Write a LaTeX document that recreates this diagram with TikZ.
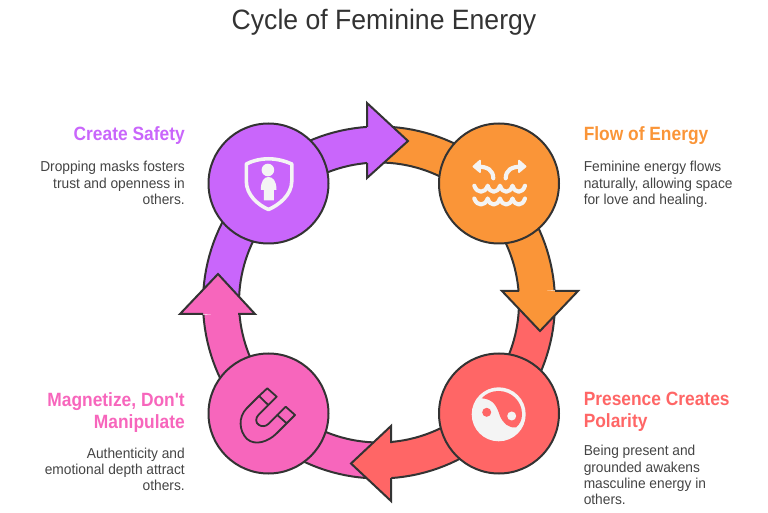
\documentclass[tikz,border=0pt]{standalone}
\usepackage{fontspec}
\setmainfont{Liberation Sans}
\newfontfamily\headfont[FakeStretch=0.905]{Liberation Sans}
\newfontfamily\bodyfont[FakeStretch=0.955]{Liberation Sans}
\newfontfamily\titlefont[FakeStretch=0.95]{Liberation Sans}
\definecolor{cpurple}{HTML}{C966FB}
\definecolor{corange}{HTML}{FA9538}
\definecolor{cred}{HTML}{FF6666}
\definecolor{cpink}{HTML}{F766BC}
\definecolor{cline}{HTML}{333333}
\definecolor{cicon}{HTML}{F4F4F4}
\definecolor{ctext}{HTML}{444444}
\newcommand{\ringbody}[3]{%
  \fill[#1] plot[domain=#2:#3,samples=40,variable=\t] ({379+176*cos(\t)},{302.5+176*sin(\t)})
    -- plot[domain=#3:#2,samples=40,variable=\t] ({379+140*cos(\t)},{302.5+140*sin(\t)}) -- cycle;
  \draw[edge] plot[domain=#2:#3,samples=40,variable=\t] ({379+176*cos(\t)},{302.5+176*sin(\t)});
  \draw[edge] plot[domain=#2:#3,samples=40,variable=\t] ({379+140*cos(\t)},{302.5+140*sin(\t)});
}
\newcommand{\ringhead}[6]{%
  \fill[#1] #2 -- #3 -- #4 -- #5 -- #6 -- cycle;
  \draw[edge] #2 -- #3 -- #4 -- #5 -- #6;
}
\newcommand{\wavy}[2]{%
  \draw[iconthick] (474.3+#1,#2) .. controls (477+#1,#2+8) and (485+#1,#2+8) .. (487.7+#1,#2)
    .. controls (490+#1,#2+8) and (497.5+#1,#2+8) .. (500+#1,#2)
    .. controls (502.5+#1,#2+8) and (510+#1,#2+8) .. (512.5+#1,#2)
    .. controls (515+#1,#2+8) and (522.5+#1,#2+8) .. (525+#1,#2);
}
\tikzset{
  x=0.75pt,y=-0.75pt,
  edge/.style={draw=cline,line width=1.5pt,line join=miter},
  hub/.style={circle,draw=cline,line width=1.5pt,minimum size=90pt,inner sep=0pt},
  iconline/.style={draw=cicon,line width=2.7pt,line cap=round,line join=round},
  iconthick/.style={iconline,line width=3.1pt},
  magline/.style={draw=cline,line width=1.35pt,line join=round},
  heading/.style={font=\headfont\fontsize{14.4}{16.5}\selectfont\bfseries,inner sep=0pt},
  body/.style={font=\bodyfont\fontsize{10.8}{12.25}\selectfont,text=ctext,inner sep=0pt},
}
\begin{document}
\begin{tikzpicture}
\useasboundingbox (0,0) rectangle (768,513);
\coordinate (ring) at (379,302.5);
% arrow bodies
\ringbody{cpurple}{180}{266}
\ringbody{corange}{270}{356}
\ringbody{cred}{0}{86}
\ringbody{cpink}{90}{176}
% arrow heads
\ringhead{cpurple}{(367,127)}{(367,103)}{(408,141)}{(367,178)}{(367,163)}
\ringhead{corange}{(555,291)}{(578,291)}{(540,331)}{(502,291)}{(519,291)}
\ringhead{cred}{(391,478)}{(391,501)}{(351,463.5)}{(391,426)}{(391,443)}
\ringhead{cpink}{(203,314)}{(180,314)}{(218,274)}{(255,314)}{(238,314)}
% hubs
\node[hub,fill=cpurple] (safety) at (268.5,183.5) {};
\node[hub,fill=corange] (flow) at (499,183.5) {};
\node[hub,fill=cred] (presence) at (499,413.5) {};
\node[hub,fill=cpink] (magnet) at (268.5,413.5) {};
% shield icon
\draw[iconline] (268.5,158.8) .. controls (260,158.8) and (252,161) .. (246.3,164)
  -- (246.3,181) .. controls (246.3,195) and (258,205) .. (268.5,209.5)
  .. controls (279,205) and (291.8,195) .. (291.8,181) -- (291.8,164)
  .. controls (285,161) and (277,158.8) .. (268.5,158.8) -- cycle;
\fill[cicon] (267.9,170) circle[radius=6.3];
\fill[cicon] (260.8,190) .. controls (260.8,181) and (264,177) .. (268.5,177)
  .. controls (273,177) and (276.5,181) .. (276.5,190) -- (273.8,190) -- (273.8,200.5)
  -- (263.8,200.5) -- (263.8,190) -- cycle;
% flow icon
\draw[iconthick] (493.3,178.3) .. controls (493,170) and (488,166.5) .. (476,166.5);
\draw[iconthick] (505.7,178.3) .. controls (506,170) and (511,166.5) .. (523,166.5);
\fill[cicon,draw=cicon,line width=1.4pt,line join=round] (473.5,166.5) -- (480,160.7) -- (480,172) -- cycle;
\fill[cicon,draw=cicon,line width=1.4pt,line join=round] (525.5,166.5) -- (519,160.7) -- (519,172) -- cycle;
\wavy{0}{185.7}
\wavy{0}{198.5}
% yin-yang icon
\fill[cicon] (498.7,414.3) circle[radius=27];
\fill[cred] (481.7,398.3) .. controls (486,393.5) and (492,391) .. (498.5,391)
  .. controls (511,391) and (522,401) .. (522,414) .. controls (522,420) and (520,424) .. (516,427.5)
  .. controls (508,428) and (503,423) .. (500,416) .. controls (497,407) and (494,399) .. (481.7,398.3) -- cycle;
\fill[cred] (486.7,412.3) circle[radius=4.5];
\fill[cicon] (511.7,416) circle[radius=4.5];
% magnet icon
\draw[magline] (259,396) -- (267.3,388.3) -- (276.7,396.7) -- (268.3,405) -- cycle;
\draw[magline] (277.3,415) -- (285.7,406.7) -- (295,415) -- (286.7,423.3) -- cycle;
\draw[magline] (259,396) -- (246.7,408.3) .. controls (238,417) and (239,431) .. (247,439)
  .. controls (255,446) and (268,442) .. (276.7,433.3) -- (286.7,423.3);
\draw[magline] (268.3,405) -- (259,414.3) .. controls (255,418) and (255.5,423) .. (259,425)
  .. controls (262,427) and (266,426.3) .. (268.3,424) -- (277.3,415);
% texts
\node[anchor=base,font=\titlefont\fontsize{21}{24}\selectfont,text=cline,inner sep=0pt] (title) at (384,30) {Cycle of Feminine Energy};
\node[heading,text=cpurple,anchor=base east] (h1) at (185,140.5) {Create Safety};
\node[body,align=right,anchor=north east] (b1) at (185,161) {Dropping masks fosters\\trust and openness in\\others.};
\node[heading,text=corange,anchor=base west] (h2) at (583.5,140.5) {Flow of Energy};
\node[body,align=left,anchor=north west] (b2) at (583.5,161) {Feminine energy flows\\naturally, allowing space\\for love and healing.};
\node[heading,text=cred,align=left,anchor=north west] (h3) at (583.5,392) {Presence Creates\\Polarity};
\node[body,align=left,anchor=north west] (b3) at (583.5,445) {Being present and\\grounded awakens\\masculine energy in\\others.};
\node[heading,text=cpink,align=right,anchor=north east] (h4) at (185,392) {Magnetize, Don't\\Manipulate};
\node[body,align=right,anchor=north east] (b4) at (185,447.5) {Authenticity and\\emotional depth attract\\others.};
\end{tikzpicture}
\end{document}
